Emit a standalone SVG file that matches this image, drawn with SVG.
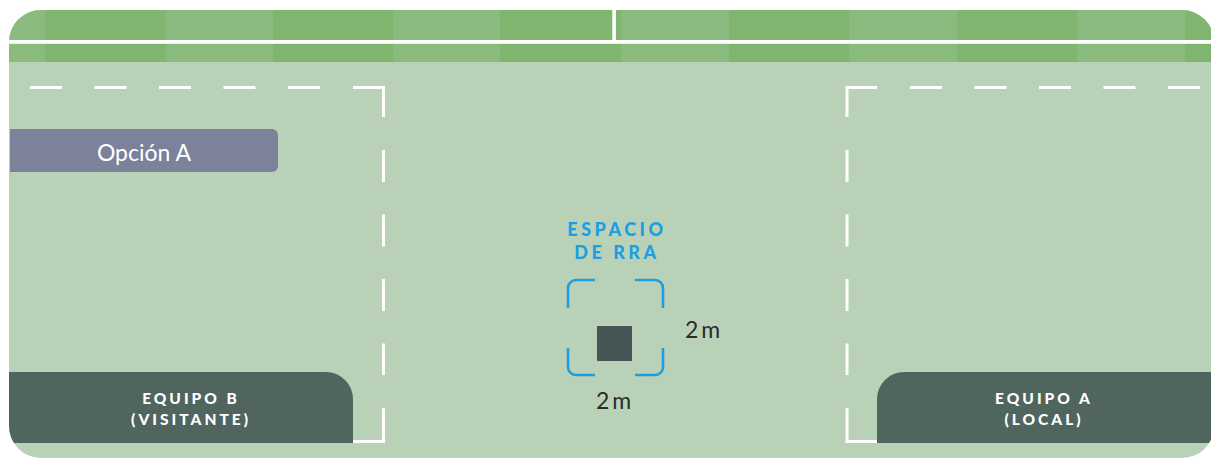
<svg xmlns="http://www.w3.org/2000/svg" width="1211" height="458" viewBox="0 0 1211 458">
<style>
.dk{fill:#80b570}.lt{fill:#8aba7d}
.wl{fill:none;stroke:#ffffff;stroke-width:3}
.dash{stroke-dasharray:32 32.5}
.team{fill:#51655f}
.tt{font-family:Lato,"Liberation Sans",sans-serif;font-weight:900;font-size:15.5px;fill:#ffffff;letter-spacing:3px;text-anchor:middle}
.dim{font-family:Lato,"Liberation Sans",sans-serif;font-size:23px;fill:#2b2b2b;letter-spacing:3px}
.blue{fill:none;stroke:#1a9fe2;stroke-width:2.6;stroke-linecap:butt}
</style>
<defs>
<clipPath id="fieldClip"><rect x="9" y="10" width="1205" height="448" rx="32" ry="32"/></clipPath>
</defs>
<g id="field" clip-path="url(#fieldClip)">
<rect x="0" y="0" width="1211" height="458" fill="#b9d2b7"/>
<g id="grass">
<rect class="lt" x="0" y="10" width="45" height="52"/>
<rect class="dk" x="45" y="10" width="121" height="52"/>
<rect class="lt" x="166" y="10" width="107" height="52"/>
<rect class="dk" x="273" y="10" width="120" height="52"/>
<rect class="lt" x="393" y="10" width="107" height="52"/>
<rect class="dk" x="500" y="10" width="121" height="52"/>
<rect class="lt" x="621" y="10" width="108" height="52"/>
<rect class="dk" x="729" y="10" width="120" height="52"/>
<rect class="lt" x="849" y="10" width="108" height="52"/>
<rect class="dk" x="957" y="10" width="120" height="52"/>
<rect class="lt" x="1077" y="10" width="108" height="52"/>
<rect class="dk" x="1185" y="10" width="30" height="52"/>
<rect x="0" y="40" width="1215" height="3.8" fill="#ffffff"/>
<rect x="612.3" y="10" width="3.6" height="31" fill="#ffffff"/>
</g>
<g id="team-b">
<path class="team" d="M0,372 H326 A27,27 0 0 1 353,399 V443 H0 Z"/>
<text class="tt" x="191" y="404">EQUIPO B</text>
<text class="tt" x="191" y="425">(VISITANTE)</text>
</g>
<g id="team-a">
<path class="team" d="M1215,372 H904 A27,27 0 0 0 877,399 V443 H1215 Z"/>
<text class="tt" x="1044" y="404">EQUIPO A</text>
<text class="tt" x="1044" y="425">(LOCAL)</text>
</g>
</g>
<g id="connectors">
<line class="wl dash" x1="30" y1="87.5" x2="320" y2="87.5"/>
<path class="wl" d="M353,87.5 H383.5 V117"/>
<line class="wl dash" x1="383.5" y1="150" x2="383.5" y2="375"/>
<path class="wl" d="M383.5,408 V441.5 H353"/>
<line class="wl dash" x1="910" y1="87.5" x2="1200" y2="87.5"/>
<path class="wl" d="M877,87.5 H847 V117"/>
<line class="wl dash" x1="847" y1="150" x2="847" y2="375"/>
<path class="wl" d="M847,408 V441.5 H877"/>
</g>
<g id="opcion-a">
<path d="M10,129 H272 A6,6 0 0 1 278,135 V166 A6,6 0 0 1 272,172 H10 Z" fill="#7b8299"/>
<text x="144" y="161" font-family="Lato,'Liberation Sans',sans-serif" font-size="23" fill="#ffffff" text-anchor="middle">Opción A</text>
</g>
<g id="espacio-rra">
<text font-family="Lato,'Liberation Sans',sans-serif" font-weight="900" font-size="18" fill="#1a9fe2" letter-spacing="3.5" text-anchor="middle"><tspan x="617" y="236">ESPACIO</tspan><tspan x="617" y="259">DE RRA</tspan></text>
<path class="blue" d="M595,280 H576 A8,8 0 0 0 568,288 V308"/>
<path class="blue" d="M635,280 H655 A8,8 0 0 1 663,288 V308"/>
<path class="blue" d="M568,348 V367 A8,8 0 0 0 576,375 H595"/>
<path class="blue" d="M663,348 V367 A8,8 0 0 1 655,375 H635"/>
<rect x="597" y="326" width="35" height="35" fill="#465656"/>
<text class="dim" x="685" y="338">2m</text>
<text class="dim" x="596" y="409">2m</text>
</g>
</svg>
